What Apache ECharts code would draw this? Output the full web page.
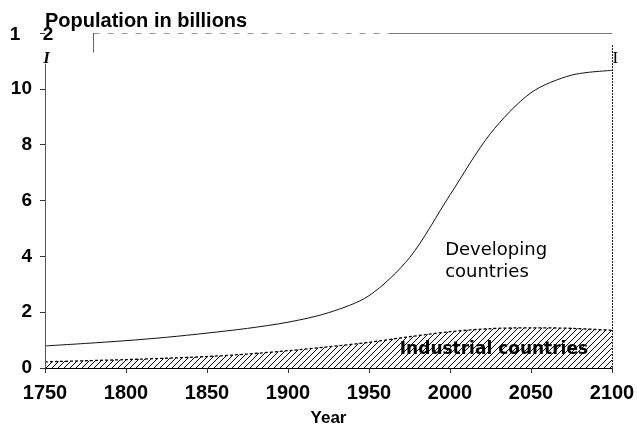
<!DOCTYPE html>
<html><head><meta charset="utf-8">
<script src="https://cdn.jsdelivr.net/npm/echarts@6/dist/echarts.min.js"></script>
<style>html,body{margin:0;padding:0;background:#fff}#c{width:637px;height:426px}</style>
</head><body><div id="c"></div>
<script>
// Years (x) and population in billions
const years = ['1750','1775','1800','1825','1850','1875','1900','1925','1950','1975','2000','2025','2050','2075','2100'];
const industrial = [0.22,0.26,0.30,0.35,0.41,0.50,0.62,0.76,0.92,1.12,1.30,1.41,1.44,1.42,1.35];
const developing = [0.57,0.62,0.68,0.75,0.84,0.92,1.02,1.22,1.67,2.83,4.90,6.99,8.42,9.07,9.31];
const yTickLabels = ['0','2','4','6','8','10','1 2'];

const pc = document.createElement('canvas'); pc.width = 6; pc.height = 6;
const g = pc.getContext('2d'); g.strokeStyle = '#000'; g.lineWidth = 1;
g.beginPath(); g.moveTo(0,6); g.lineTo(6,0); g.moveTo(-1,1); g.lineTo(1,-1); g.moveTo(5,7); g.lineTo(7,5); g.stroke();

const chart = echarts.init(document.getElementById('c'), null, {renderer:'canvas'});
const bold = 'Liberation Sans';
const ml = (a,b,style) => [{coord:a, lineStyle:style},{coord:b}];
chart.setOption({
  animation:false,
  backgroundColor:'#fff',
  title:{text:'Population in billions', left:40, top:6, textStyle:{fontFamily:bold, fontWeight:'bold', fontSize:20, color:'#000'}},
  grid:{left:45, right:25, top:33, bottom:58, containLabel:false, outerBoundsMode:'none'},
  xAxis:[{type:'category', data:years, boundaryGap:false,
    name:'Year', nameLocation:'middle', nameGap:42,
    nameTextStyle:{fontFamily:bold, fontWeight:'bold', fontSize:17, color:'#000'},
    axisLine:{lineStyle:{color:'#000', width:1}},
    axisTick:{show:true, length:5, interval:1, lineStyle:{color:'#333'}},
    splitLine:{show:false},
    axisLabel:{margin:15, interval:1, fontFamily:bold, fontWeight:'bold', fontSize:20, color:'#000'}},
   {type:'value', min:1750, max:2100, show:false}],
  yAxis:{type:'value', min:0, max:12, interval:2,
    axisLine:{show:false},
    axisTick:{show:true, length:5, lineStyle:{color:'#333'}},
    splitLine:{show:false},
    axisLabel:{margin:13, fontFamily:bold, fontWeight:'bold', fontSize:19, color:'#000',
      formatter:v=> v===12 ? '' : yTickLabels[v/2]}},
  series:[
    {name:'Industrial countries', type:'line', stack:'pop', smooth:0.3, symbol:'none',
     data: industrial,
     lineStyle:{color:'#000', width:1.3, type:[3,2]},
     areaStyle:{color:{image:pc, repeat:'repeat'}, opacity:1}},
    {name:'Developing countries', type:'line', stack:'pop', smooth:0.3, symbol:'none',
     data: developing,
     lineStyle:{color:'#111', width:1}},
    {name:'frame', type:'line', xAxisIndex:1, data:[], symbol:'none', silent:true,
     markLine:{silent:true, symbol:'none', label:{show:false}, animation:false,
       data:[
         ml([1750,0],[1750,10.9],{color:'#555', width:1, type:'solid'}),
         ml([2100,0],[2100,11.6],{color:'#222', width:1, type:[2,1]}),
         ml([1963,12],[2100,12],{color:'#777', width:1.2, type:'solid'}),
         ml([1780,12],[1963,12],{color:'#999', width:1, type:[6,8]}),
         ml([1780,12],[1780,11.3],{color:'#666', width:1, type:'solid'})
       ]}}
  ]
});

const px = (x,y)=>chart.convertToPixel({xAxisIndex:1, yAxisIndex:0},[x,y]);
const p12 = px(1750,12), pDev = px(1997,4.6), pInd = px(1969,0.66), pIL = px(1751,11.07), pIR = px(2102,11.07);
const serif = 'Liberation Serif';
chart.setOption({graphic:[
  {type:'text', x:p12[0]-30, y:p12[1]+2, style:{text:'1', fontFamily:bold, fontWeight:'bold', fontSize:19, fill:'#000', align:'center', verticalAlign:'middle'}},
  {type:'text', x:p12[0]+3, y:p12[1]+2, style:{text:'2', fontFamily:bold, fontWeight:'bold', fontSize:19, fill:'#000', align:'center', verticalAlign:'middle'}},
  {type:'text', x:pIL[0], y:pIL[1], style:{text:'I', fontFamily:serif, fontWeight:'bold', fontStyle:'italic', fontSize:17, fill:'#000', align:'center', verticalAlign:'middle'}},
  {type:'text', x:pIR[0], y:pIR[1], style:{text:'I', fontFamily:serif, fontSize:17, fill:'#000', align:'center', verticalAlign:'middle'}},
  {type:'text', x:pDev[0], y:pDev[1], style:{text:'Developing\ncountries', fontFamily:'DejaVu Sans', fontSize:18, lineHeight:22, fill:'#000', align:'left', verticalAlign:'top'}},
  {type:'text', x:pInd[0], y:pInd[1], style:{text:'Industrial countries', fontFamily:'DejaVu Sans', fontWeight:'bold', fontSize:17, fill:'#000', align:'left', verticalAlign:'middle'}}
]});
</script></body></html>
